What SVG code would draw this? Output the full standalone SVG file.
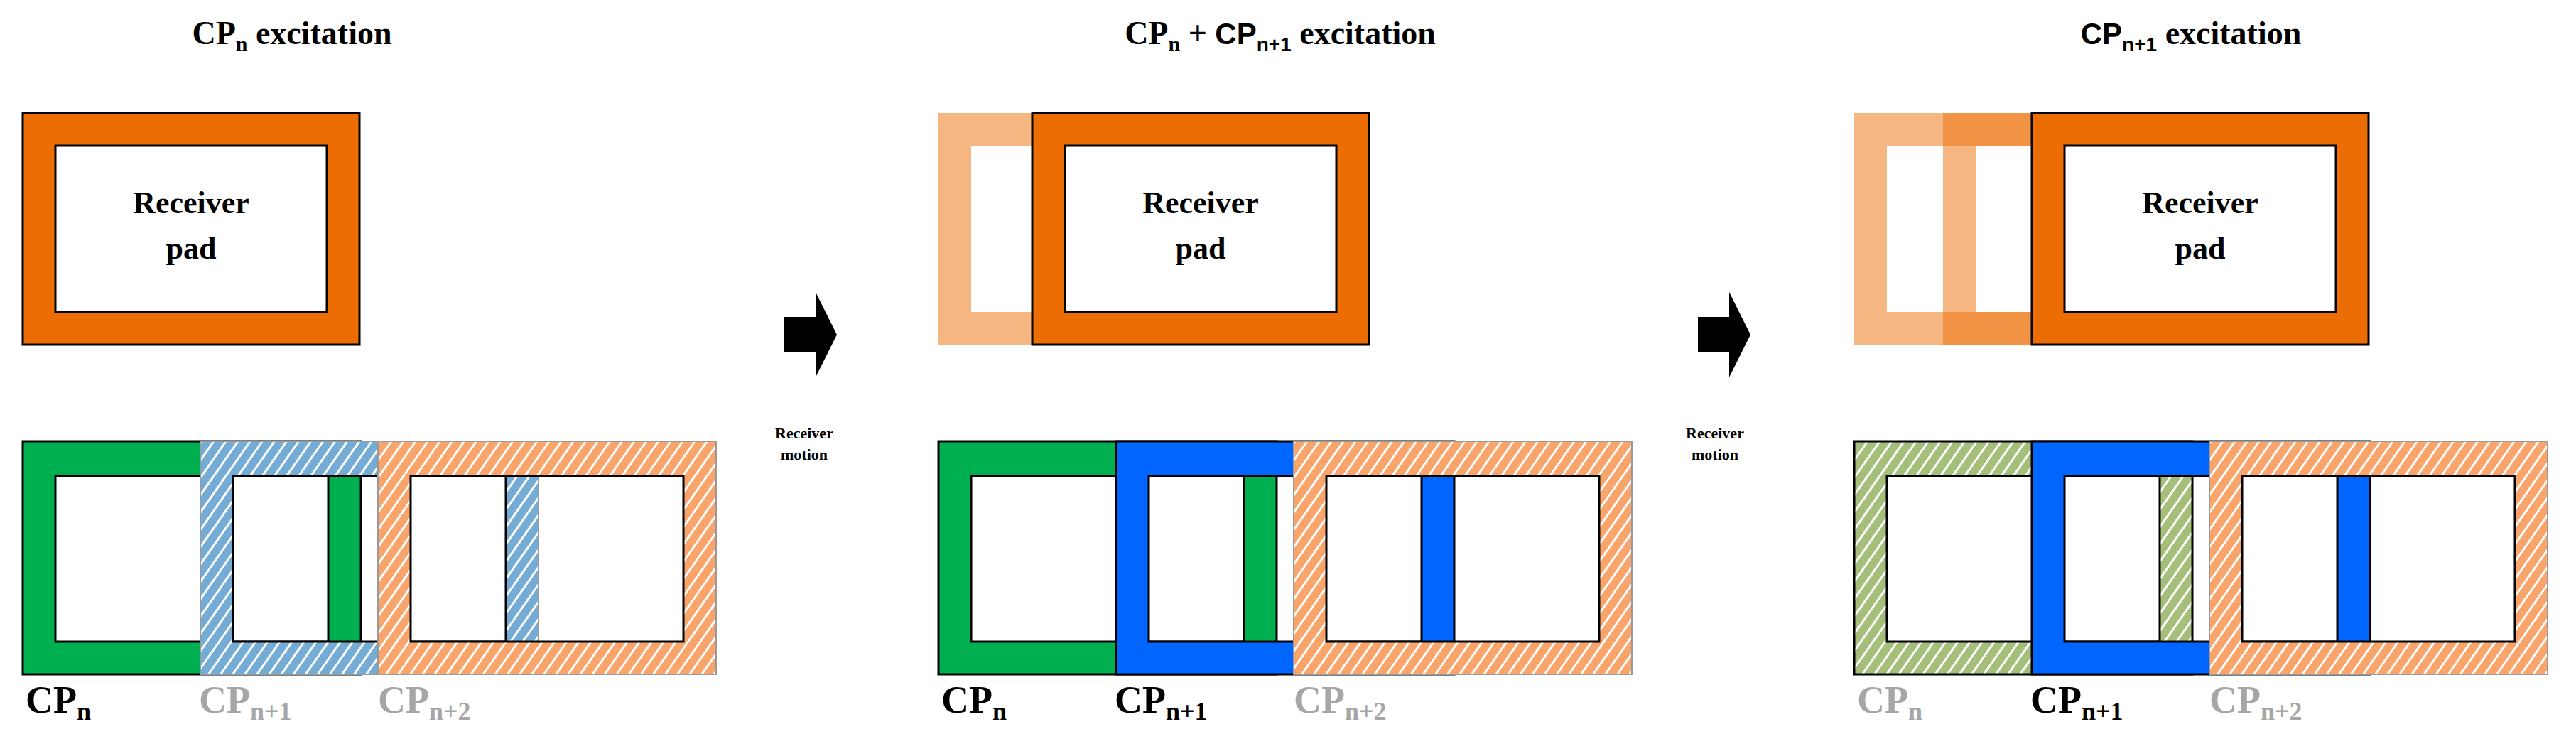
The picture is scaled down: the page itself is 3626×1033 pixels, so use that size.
<svg xmlns="http://www.w3.org/2000/svg" width="3626" height="1033" viewBox="0 0 3626 1033">
<defs>
<pattern id="hb" patternUnits="userSpaceOnUse" width="14" height="14" patternTransform="rotate(35)"><rect width="14" height="14" fill="#74acd6"/><rect width="3" height="14" fill="#fff"/></pattern>
<pattern id="ho" patternUnits="userSpaceOnUse" width="14" height="14" patternTransform="rotate(35)"><rect width="14" height="14" fill="#f9a46b"/><rect width="3" height="14" fill="#fff"/></pattern>
<pattern id="hg" patternUnits="userSpaceOnUse" width="14" height="14" patternTransform="rotate(35)"><rect width="14" height="14" fill="#a4bf7a"/><rect width="3" height="14" fill="#fff"/></pattern>
<path id="frame" d="M0 0h476v328h-476zM46 49h384v233h-384z" fill-rule="evenodd"/>
<path id="pad" d="M0 0h474v326h-474zM46 46h382v234h-382z" fill-rule="evenodd"/>
<path id="arrow" d="M0 35h44v-35l30 60l-30 60v-35h-44z"/>
</defs>
<style>
.t{font-family:"Liberation Serif","DejaVu Serif","Times New Roman",serif;font-weight:bold;fill:#000}
.s{font-family:"Liberation Sans","DejaVu Sans",sans-serif;font-weight:bold}
.g{fill:#a6a6a6}
.hole{fill:none;stroke:#000;stroke-width:3}
.holew{fill:#fff;stroke:#000;stroke-width:3}
.ob{fill:none;stroke:#000;stroke-width:3}
.og{fill:none;stroke:#999;stroke-width:2}
</style>

<!-- Titles -->
<text class="t" x="411" y="62" font-size="46" text-anchor="middle">CP<tspan font-size="30" dy="10">n</tspan><tspan dy="-10"> excitation</tspan></text>
<text class="t" x="1802" y="62" font-size="46" text-anchor="middle">CP<tspan font-size="30" dy="10">n</tspan><tspan dy="-10"> + </tspan><tspan class="s" font-size="42">CP</tspan><tspan class="s" font-size="28" dy="10">n+1</tspan><tspan dy="-10"> excitation</tspan></text>
<text class="t" x="3084" y="62" font-size="46" text-anchor="middle"><tspan class="s" font-size="42">CP</tspan><tspan class="s" font-size="28" dy="10">n+1</tspan><tspan dy="-10"> excitation</tspan></text>

<!-- Panel 1 -->
<g id="p1-pad" transform="translate(32,159)">
<use href="#pad" fill="#ed6d05"/><rect width="474" height="326" class="ob"/><rect x="46" y="46" width="382" height="234" class="holew"/>
<text class="t" x="237" y="141" font-size="44" text-anchor="middle">Receiver</text>
<text class="t" x="237" y="205" font-size="44" text-anchor="middle">pad</text>
</g>
<g id="p1-cpn" transform="translate(32,621)"><use href="#frame" fill="#00b050"/><rect width="476" height="328" class="ob"/><rect x="46" y="49" width="384" height="233" class="hole"/></g>
<g id="p1-cpn1" transform="translate(282,621)"><use href="#frame" fill="url(#hb)"/><rect width="476" height="328" class="og"/><rect x="46" y="49" width="384" height="233" class="hole"/></g>
<g id="p1-cpn2" transform="translate(532,621)"><use href="#frame" fill="url(#ho)"/><rect width="476" height="328" class="og"/><rect x="46" y="49" width="384" height="233" class="hole"/></g>
<text class="t" x="36" y="1003" font-size="54">CP<tspan font-size="36" dy="10">n</tspan></text>
<text class="t g" x="280" y="1003" font-size="54">CP<tspan font-size="36" dy="10">n+1</tspan></text>
<text class="t g" x="532" y="1003" font-size="54">CP<tspan font-size="36" dy="10">n+2</tspan></text>

<!-- Connectors (motion arrows) -->
<g id="connectors">
<use href="#arrow" x="1104" y="411" fill="#000"/>
<text class="t" x="1132" y="617" font-size="22" text-anchor="middle">Receiver</text>
<text class="t" x="1132" y="647" font-size="22" text-anchor="middle">motion</text>
<use href="#arrow" x="2390" y="411" fill="#000"/>
<text class="t" x="2414" y="617" font-size="22" text-anchor="middle">Receiver</text>
<text class="t" x="2414" y="647" font-size="22" text-anchor="middle">motion</text>
</g>

<!-- Panel 2 -->
<g id="p2-ghost" transform="translate(1321,159)"><use href="#pad" fill="#ed6d05" opacity="0.5"/></g>
<g id="p2-pad" transform="translate(1453,159)">
<use href="#pad" fill="#ed6d05"/><rect width="474" height="326" class="ob"/><rect x="46" y="46" width="382" height="234" class="holew"/>
<text class="t" x="237" y="141" font-size="44" text-anchor="middle">Receiver</text>
<text class="t" x="237" y="205" font-size="44" text-anchor="middle">pad</text>
</g>
<g id="p2-cpn" transform="translate(1321,621)"><use href="#frame" fill="#00b050"/><rect width="476" height="328" class="ob"/><rect x="46" y="49" width="384" height="233" class="hole"/></g>
<g id="p2-cpn1" transform="translate(1571,621)"><use href="#frame" fill="#0066ff"/><rect width="476" height="328" class="ob"/><rect x="46" y="49" width="384" height="233" class="hole"/></g>
<g id="p2-cpn2" transform="translate(1821,621)"><use href="#frame" fill="url(#ho)"/><rect width="476" height="328" class="og"/><rect x="46" y="49" width="384" height="233" class="hole"/></g>
<text class="t" x="1325" y="1003" font-size="54">CP<tspan font-size="36" dy="10">n</tspan></text>
<text class="t" x="1569" y="1003" font-size="54">CP<tspan font-size="36" dy="10">n+1</tspan></text>
<text class="t g" x="1821" y="1003" font-size="54">CP<tspan font-size="36" dy="10">n+2</tspan></text>

<!-- Panel 3 -->
<g id="p3-ghost1" transform="translate(2610,159)"><use href="#pad" fill="#ed6d05" opacity="0.5"/></g>
<g id="p3-ghost2" transform="translate(2735,159)"><use href="#pad" fill="#ed6d05" opacity="0.5"/></g>
<g id="p3-pad" transform="translate(2860,159)">
<use href="#pad" fill="#ed6d05"/><rect width="474" height="326" class="ob"/><rect x="46" y="46" width="382" height="234" class="holew"/>
<text class="t" x="237" y="141" font-size="44" text-anchor="middle">Receiver</text>
<text class="t" x="237" y="205" font-size="44" text-anchor="middle">pad</text>
</g>
<g id="p3-cpn" transform="translate(2610,621)"><use href="#frame" fill="url(#hg)"/><rect width="476" height="328" class="ob"/><rect x="46" y="49" width="384" height="233" class="hole"/></g>
<g id="p3-cpn1" transform="translate(2860,621)"><use href="#frame" fill="#0066ff"/><rect width="476" height="328" class="ob"/><rect x="46" y="49" width="384" height="233" class="hole"/></g>
<g id="p3-cpn2" transform="translate(3110,621)"><use href="#frame" fill="url(#ho)"/><rect width="476" height="328" class="og"/><rect x="46" y="49" width="384" height="233" class="hole"/></g>
<text class="t g" x="2614" y="1003" font-size="54">CP<tspan font-size="36" dy="10">n</tspan></text>
<text class="t" x="2858" y="1003" font-size="54">CP<tspan font-size="36" dy="10">n+1</tspan></text>
<text class="t g" x="3110" y="1003" font-size="54">CP<tspan font-size="36" dy="10">n+2</tspan></text>
</svg>
